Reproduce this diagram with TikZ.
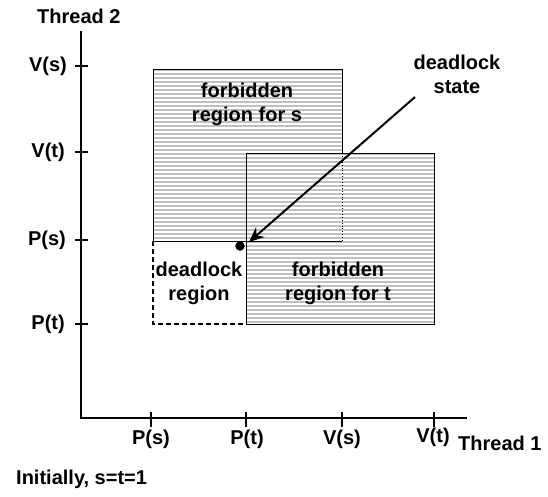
\documentclass[tikz,border=0pt]{standalone}
\usepackage{fontspec}
\setmainfont{Liberation Sans}
\usetikzlibrary{arrows.meta}

\begin{document}
\begin{tikzpicture}[
    x=1pt, y=-1pt,
    >={Stealth[length=15pt, width=13pt]},
    lbl/.style = {
      font = \fontsize{20}{24}\selectfont\bfseries,
      inner sep = 0pt,
      align = center
    },
    axis/.style = {line width=2.5},
    tick/.style = {line width=1.5},
    region/.style = {
      draw,
      line width = 0.9,
      fill = {rgb,255:red,192;green,192;blue,192}
    },
    dot/.style = {
      draw,
      fill = black,
      circle,
      inner sep = 0pt,
      minimum size = 9pt
    }
  ]
  \useasboundingbox (0,0) rectangle (548,496);
  \coordinate (O) at (81,418);

  % forbidden regions, striped
  \foreach \xa/\ya/\xb/\yb in {153/69/342/241, 246/153/434/324} {
    \filldraw[region] (\xa,\ya) rectangle (\xb,\yb);
    \scope
      \clip (\xa,\ya) rectangle (\xb,\yb);
      \foreach \y in {72,76,...,324}
        \draw[white, line width=1.2] (\xa,\y) -- (\xb,\y);
    \endscope
    \draw[line width=0.9] (\xa,\ya) rectangle (\xb,\yb);
  }
  \draw[line width=0.9] (246,241) -- (342,241);
  \draw[line width=0.9, dotted] (342,153) -- (342,241);

  % deadlock region
  \draw[line width=1.5, dash pattern=on 5pt off 3pt] (153,241) -- (153,324) -- (246,324);

  % axes
  \draw[axis] (81,31) -- (O) -- (467,418);
  \foreach \y in {66,152,240,324}
    \draw[tick] (75,\y) -- (88,\y);
  \foreach \x in {151,246,342,434}
    \draw[tick] (\x,412) -- (\x,427);

  % labels
  \node[lbl, anchor=east] (yvs) at (67,66) {V(s)};
  \node[lbl, anchor=east] (yvt) at (65,152) {V(t)};
  \node[lbl, anchor=east] (yps) at (66,240) {P(s)};
  \node[lbl, anchor=east] (ypt) at (65,324) {P(t)};
  \node[lbl] (xps) at (151,439) {P(s)};
  \node[lbl] (xpt) at (247,439) {P(t)};
  \node[lbl] (xvs) at (342,439) {V(s)};
  \node[lbl] (xvt) at (433,437) {V(t)};
  \node[lbl, anchor=west] (thr2) at (37,16) {Thread 2};
  \node[lbl, anchor=west] (thr1) at (458,443) {Thread 1};
  \node[lbl, anchor=west] (init) at (16,479) {Initially, s=t=1};

  \node[lbl] (fs) at (247,104) {forbidden\\region for s};
  \node[lbl] (ft) at (338,283) {forbidden\\region for t};
  \node[lbl] (dr) at (199,283) {deadlock\\region};
  \node[lbl] (ds) at (457,74) {deadlock\\state};

  % deadlock state
  \node[dot] (dead) at (240,246) {};
  \coordinate (tail) at (415,97);
  \coordinate (tip) at (249,242);
  \draw[->, line width=2] (tail) -- (tip);
\end{tikzpicture}
\end{document}
